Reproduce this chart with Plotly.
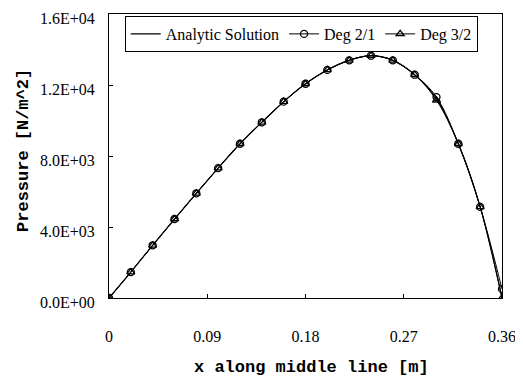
import plotly.graph_objects as go

x_vals = [0.00, 0.02, 0.04, 0.06, 0.08, 0.10, 0.12, 0.14, 0.16, 0.18,
          0.20, 0.22, 0.24, 0.26, 0.28, 0.30, 0.32, 0.34, 0.36]
analytic = [0, 1460, 2970, 4450, 5900, 7320, 8690, 9900, 11060, 12070,
            12850, 13390, 13650, 13390, 12580, 11230, 8690, 5130, 0]
deg21 = [0, 1460, 2970, 4450, 5900, 7320, 8690, 9900, 11060, 12070,
         12850, 13390, 13650, 13390, 12580, 11320, 8690, 5130, 500]
deg32 = [0, 1460, 2970, 4450, 5900, 7320, 8690, 9900, 11060, 12070,
         12850, 13390, 13650, 13390, 12580, 11140, 8690, 5130, 0]

x_ticks = [0, 0.09, 0.18, 0.27, 0.36]
x_ticktext = ["0", "0.09", "0.18", "0.27", "0.36"]
y_ticks = [0, 4000, 8000, 12000, 16000]
y_ticktext = ["0.0E+00", "4.0E+03", "8.0E+03", "1.2E+04", "1.6E+04"]

serif = "Liberation Serif"
mono = "Liberation Mono"

fig = go.Figure()
fig.add_trace(go.Scatter(x=x_vals, y=analytic, mode="lines", name="Analytic Solution",
                         line=dict(color="black", width=1.2, shape="spline")))
fig.add_trace(go.Scatter(x=x_vals, y=deg21, mode="lines+markers", name="Deg 2/1",
                         line=dict(color="black", width=1, shape="spline"),
                         marker=dict(symbol="circle-open", size=7, color="black",
                                     line=dict(width=1.3, color="black"))))
fig.add_trace(go.Scatter(x=x_vals, y=deg32, mode="lines+markers", name="Deg 3/2",
                         line=dict(color="black", width=1, shape="spline"),
                         marker=dict(symbol="triangle-up-open", size=7, color="black",
                                     line=dict(width=1.3, color="black"))))

# page body has an 8px default margin, so the figure is sized/shifted to compensate
fig.update_layout(
    width=515, height=372,
    margin=dict(l=101, r=21, t=6, b=82),
    paper_bgcolor="white", plot_bgcolor="white",
    font=dict(family=serif, size=15, color="black"),
    showlegend=True,
    legend=dict(orientation="h", x=0.04, y=0.993, xanchor="left", yanchor="top",
                bgcolor="white", bordercolor="black", borderwidth=1,
                font=dict(family=serif, size=16, color="black"),
                itemwidth=30, tracegroupgap=0),
    xaxis=dict(range=[0, 0.36], tickvals=x_ticks, ticktext=x_ticktext,
               ticks="inside", ticklen=4, tickcolor="black",
               showline=True, linecolor="black", linewidth=1, mirror=True,
               showgrid=False, zeroline=False, automargin=False,
               ticklabelstandoff=24, ticklabeloverflow="allow",
               tickfont=dict(family=serif, size=16)),
    yaxis=dict(range=[0, 16000], tickvals=y_ticks, ticktext=y_ticktext,
               ticks="inside", ticklen=4, tickcolor="black",
               showline=True, linecolor="black", linewidth=1, mirror=True,
               showgrid=False, zeroline=False, automargin=False,
               ticklabelstandoff=10, ticklabelshift=4, ticklabeloverflow="allow",
               tickfont=dict(family=serif, size=16)),
    annotations=[
        dict(text="x along middle line [m]", xref="paper", yref="paper",
             x=0.515, y=-0.243, xanchor="center", yanchor="middle", showarrow=False,
             font=dict(family=mono, size=17, weight="bold", color="black")),
        dict(text="Pressure [N/m^2]", xref="paper", yref="paper",
             x=-0.219, y=0.521, xanchor="center", yanchor="middle", showarrow=False,
             textangle=-90,
             font=dict(family=mono, size=17, weight="bold", color="black")),
    ],
)

fig.write_html("out.html")
